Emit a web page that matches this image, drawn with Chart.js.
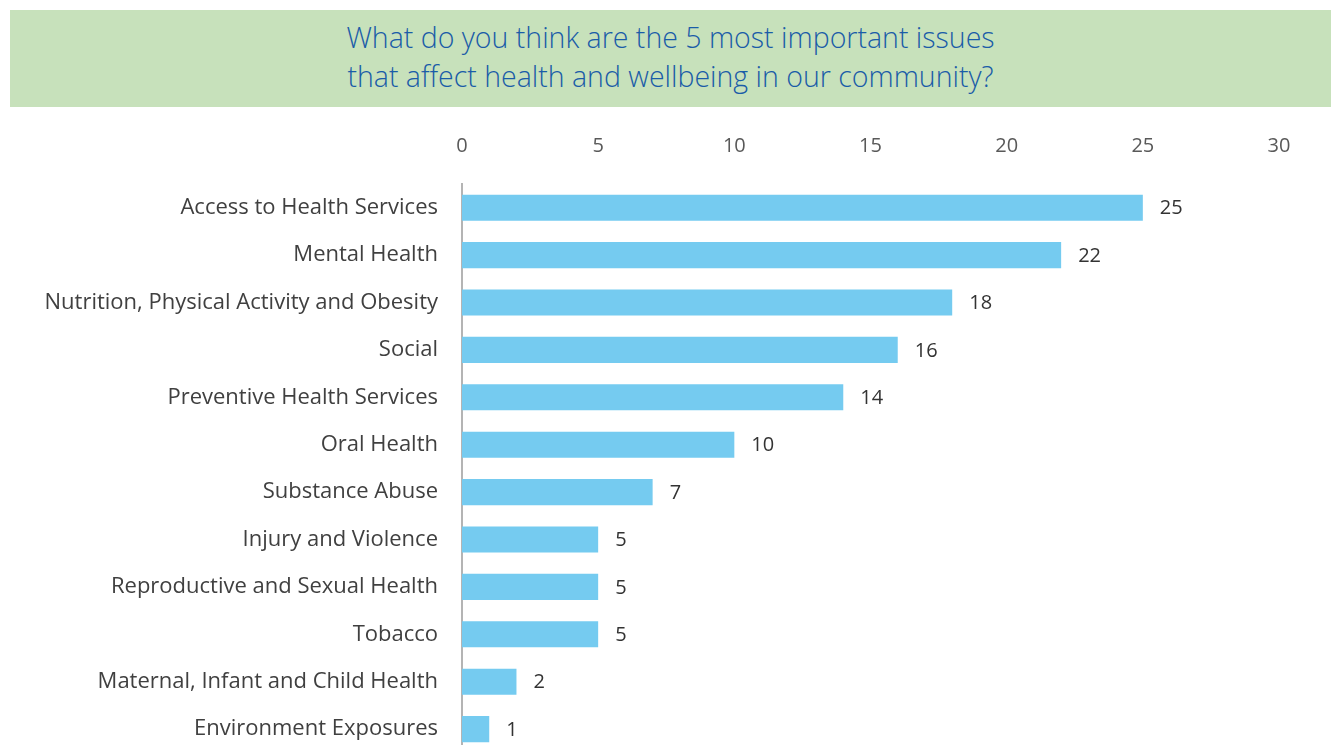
<!DOCTYPE html>
<html>
<head>
<meta charset="utf-8">
<script src="https://cdn.jsdelivr.net/npm/chart.js@4.4.0/dist/chart.umd.min.js"></script>
<style>
	html, body { margin: 0; padding: 0; background: #fff; overflow: hidden; width: 1331px; height: 745px; }
	#banner {
		position: absolute; left: 10px; top: 10px; width: 1321px; height: 97px;
		background: #c7e1bb; color: #1a5ca8; text-align: center;
		font-family: "Open Sans", sans-serif; font-weight: 300; font-size: 28.5px; line-height: 39px;
		padding-top: 8px; box-sizing: border-box;
	}
	#issuesChart { position: absolute; left: 0; top: 107px; }
</style>
</head>
<body>
<div id="banner">What do you think are the 5 most important issues<br>that affect health and wellbeing in our community?</div>
<!-- o gráfico continua abaixo da borda da página -->
<canvas id="issuesChart" width="1331" height="683"></canvas>
<script>
// Respostas por tema
const issues = [
	"Access to Health Services",
	"Mental Health",
	"Nutrition, Physical Activity and Obesity",
	"Social",
	"Preventive Health Services",
	"Oral Health",
	"Substance Abuse",
	"Injury and Violence",
	"Reproductive and Sexual Health",
	"Tobacco",
	"Maternal, Infant and Child Health",
	"Environment Exposures"
];
const responses = [25, 22, 18, 16, 14, 10, 7, 5, 5, 5, 2, 1];
const axisMax = 30;
const axisStep = 5;

const labelFont = '"Open Sans", sans-serif';

// Escreve o valor ao lado de cada barra
const valueLabels = {
	id: 'valueLabels',
	afterDatasetsDraw(chart) {
		const ctx = chart.ctx;
		const meta = chart.getDatasetMeta(0);
		ctx.save();
		ctx.font = '20px ' + labelFont;
		ctx.fillStyle = '#333333';
		ctx.textBaseline = 'middle';
		ctx.textAlign = 'left';
		meta.data.forEach((bar, i) => {
			ctx.fillText(responses[i], bar.x + 17, bar.y + 1);
		});
		ctx.restore();
	}
};

const createChart = (contextId, chartData, chartOptions, plugins) => {
	let ctx = document.getElementById(contextId).getContext('2d');
	return new Chart(ctx, {
		type: 'bar',
		data: chartData,
		options: chartOptions,
		plugins: plugins
	});
};

createChart('issuesChart', {
	labels: issues,
	datasets: [{
		data: responses,
		backgroundColor: '#75cbf0',
		barPercentage: 0.55,
		categoryPercentage: 1.0
	}]
}, {
	indexAxis: 'y',
	responsive: false,
	animation: false,
	layout: { padding: { left: 0, right: 52, top: 0, bottom: 0 } },
	plugins: { legend: { display: false }, tooltip: { enabled: false } },
	scales: {
		x: {
			position: 'top',
			min: 0,
			max: axisMax,
			grid: { display: false, drawTicks: false },
			border: { display: false },
			ticks: {
				stepSize: axisStep,
				padding: 26,
				color: '#595959',
				font: { family: labelFont, size: 20 }
			},
			afterFit(scale) { scale.height = 77; }
		},
		y: {
			grid: { display: false, drawTicks: false },
			border: { display: true, color: '#b4b4b4', width: 2 },
			ticks: {
				padding: 24,
				color: '#404040',
				font: { family: labelFont, size: 22 }
			},
			afterFit(scale) { scale.width = 462; }
		}
	}
}, [valueLabels]);
</script>
</body>
</html>
